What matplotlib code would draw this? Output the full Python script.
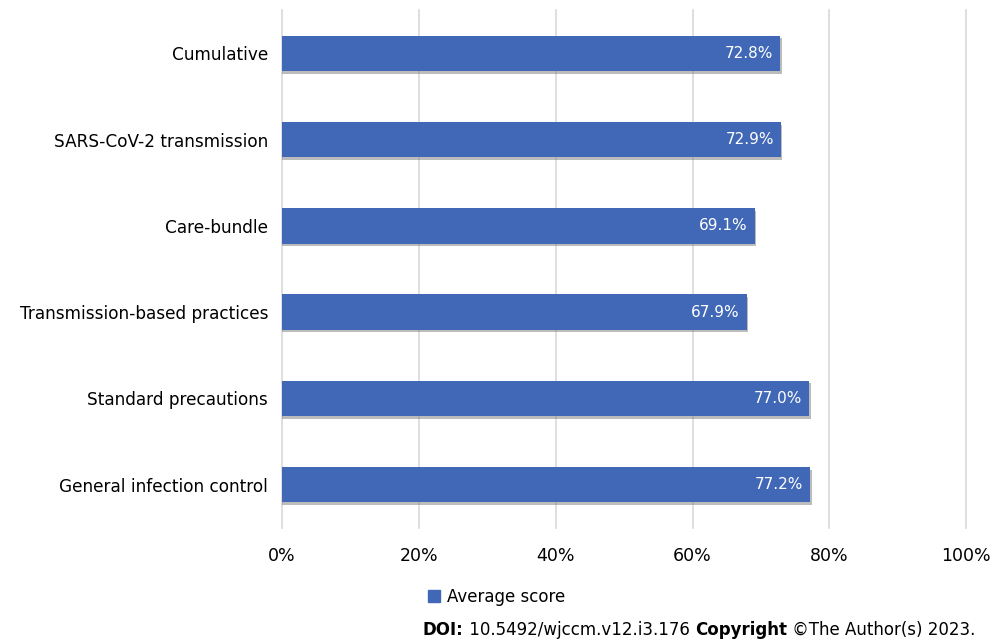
import matplotlib.pyplot as plt
from matplotlib.patches import Rectangle

categories = ['General infection control', 'Standard precautions', 'Transmission-based practices',
              'Care-bundle', 'SARS-CoV-2 transmission', 'Cumulative']
scores = [77.2, 77.0, 67.9, 69.1, 72.9, 72.8]
xticks = [0, 20, 40, 60, 80, 100]

bar_color = '#4068B6'

fig = plt.figure(figsize=(9.93, 6.39), dpi=100)
ax = fig.add_axes([0.284, 0.174, 0.689, 0.810])

ypos = list(range(len(categories)))
# soft shadow behind bars
ax.barh([y - 0.03 for y in ypos], [s + 0.25 for s in scores], height=0.41,
        color='#7a7a7a', alpha=0.5, zorder=2)
bars = ax.barh(ypos, scores, height=0.41, color=bar_color, zorder=3)

for y, s in zip(ypos, scores):
    ax.text(s - 1.0, y, f'{s:.1f}%', ha='right', va='center', color='white',
            fontsize=11, zorder=4)

ax.set_xlim(0, 100)
ax.set_ylim(-0.5, len(categories) - 0.5)
ax.set_xticks(xticks)
ax.set_xticklabels([f'{t}%' for t in xticks], fontsize=12.5)
ax.set_yticks(ypos)
ax.set_yticklabels(categories, fontsize=12.2)
ax.tick_params(axis='y', length=0, pad=10)
ax.tick_params(axis='x', length=0, pad=14)
for t in xticks:
    ax.axvline(t, color='#d9d9d9', linewidth=1.2, zorder=0, clip_on=False)
for side in ['top', 'right', 'bottom', 'left']:
    ax.spines[side].set_visible(False)

# legend
fig.patches.append(Rectangle((428 / 993, 1 - 602 / 639), 12 / 993, 12 / 639,
                             transform=fig.transFigure, color=bar_color))
fig.text(447 / 993, 1 - 597 / 639, 'Average score', fontsize=12, va='center')

# DOI line
renderer = fig.canvas.get_renderer()
parts = [('DOI:', 'bold'), (' 10.5492/wjccm.v12.i3.176 ', 'normal'),
         ('Copyright', 'bold'), (' \u00a9The Author(s) 2023.', 'normal')]
x = 423 / 993
y = 1 - 630 / 639
for txt, w in parts:
    t = fig.text(x, y, txt, fontsize=12, fontweight=w, va='center')
    bb = t.get_window_extent(renderer=renderer)
    x += bb.width / fig.bbox.width

fig.savefig('out.png', dpi=100)
